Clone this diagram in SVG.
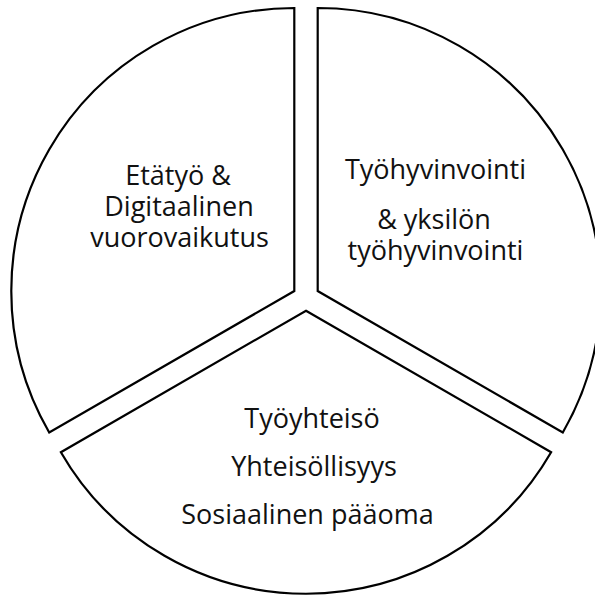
<svg xmlns="http://www.w3.org/2000/svg" width="595" height="596" viewBox="0 0 595 596">
<style>
.sec{fill:#fff;stroke:#000;stroke-width:2.2;stroke-linejoin:miter}
.t{font-family:"Open Sans","Liberation Sans",sans-serif;font-size:27px;fill:#111;text-anchor:middle}
</style>
<rect width="595" height="596" fill="#fff"/>
<g id="connectors"></g>
<g id="etatyo">
<path class="sec" d="M294.3,291 L294.3,8 A283,283 0 0 0 49.2,432.5 Z"/>
<text class="t" x="178" y="185">Etätyö &amp;</text>
<text class="t" x="179" y="216">Digitaalinen</text>
<text class="t" x="179.5" y="247">vuorovaikutus</text>
</g>
<g id="tyohyvinvointi">
<path class="sec" d="M317.7,291 L317.7,8 A283,283 0 0 1 562.8,432.5 Z"/>
<text class="t" x="435.5" y="179">Työhyvinvointi</text>
<text class="t" x="434" y="229">&amp; yksilön</text>
<text class="t" x="435.5" y="260">työhyvinvointi</text>
</g>
<g id="tyoyhteiso">
<path class="sec" d="M306,310.7 L551.1,452.2 A283,283 0 0 1 60.9,452.2 Z"/>
<text class="t" x="312" y="428">Työyhteisö</text>
<text class="t" x="314" y="476">Yhteisöllisyys</text>
<text class="t" x="307.5" y="524">Sosiaalinen pääoma</text>
</g>
</svg>
